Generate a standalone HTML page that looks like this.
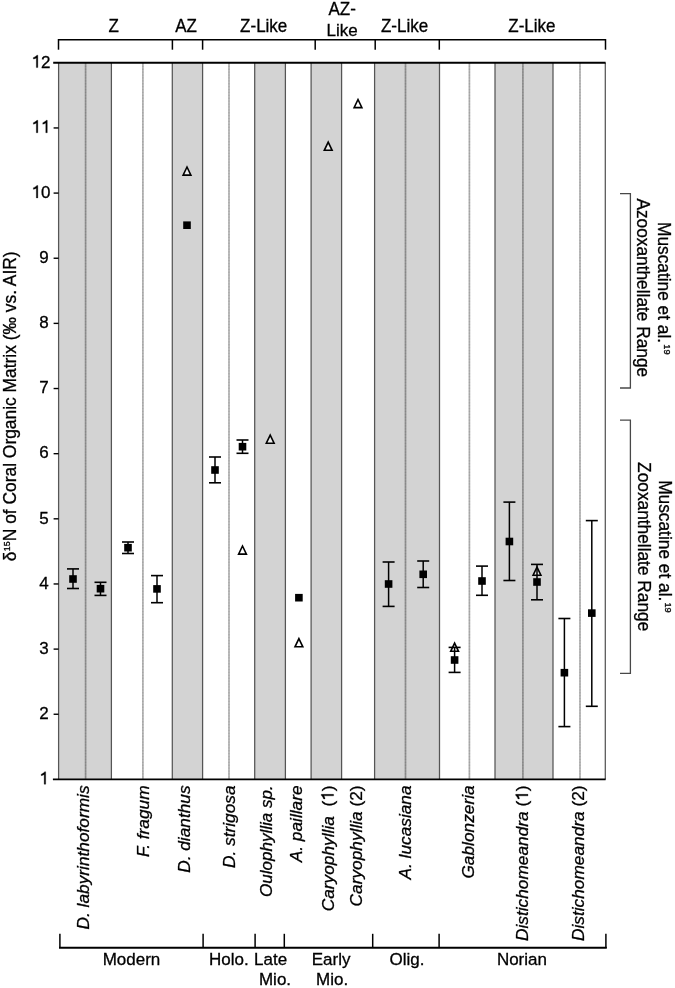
<!DOCTYPE html><html><head><meta charset="utf-8"><style>html,body{margin:0;padding:0;background:#fff;}svg{display:block;will-change:transform;}text{font-family:"Liberation Sans",sans-serif;fill:#000;stroke:#000;stroke-width:0.3px;}</style></head><body>
<svg width="675" height="988" viewBox="0 0 675 988">
<rect x="0" y="0" width="675" height="988" fill="#fff"/>
<rect x="58.6" y="62.8" width="52.80" height="716.60" fill="#d3d3d3"/>
<rect x="172.3" y="62.8" width="30.30" height="716.60" fill="#d3d3d3"/>
<rect x="254.7" y="62.8" width="30.70" height="716.60" fill="#d3d3d3"/>
<rect x="311.1" y="62.8" width="30.50" height="716.60" fill="#d3d3d3"/>
<rect x="374.6" y="62.8" width="64.90" height="716.60" fill="#d3d3d3"/>
<rect x="495.0" y="62.8" width="58.00" height="716.60" fill="#d3d3d3"/>
<line x1="58.6" y1="62.8" x2="58.6" y2="779.4" stroke="#555" stroke-width="1.25"/>
<line x1="85.6" y1="62.8" x2="85.6" y2="779.4" stroke="rgba(0,0,0,0.31)" stroke-width="1.7"/>
<line x1="85.6" y1="62.8" x2="85.6" y2="779.4" stroke="rgba(0,0,0,0.08)" stroke-width="1.7" stroke-dasharray="1.3,1.6"/>
<line x1="111.4" y1="62.8" x2="111.4" y2="779.4" stroke="#555" stroke-width="1.25"/>
<line x1="142.9" y1="62.8" x2="142.9" y2="779.4" stroke="rgba(0,0,0,0.31)" stroke-width="1.7"/>
<line x1="142.9" y1="62.8" x2="142.9" y2="779.4" stroke="rgba(0,0,0,0.08)" stroke-width="1.7" stroke-dasharray="1.3,1.6"/>
<line x1="172.3" y1="62.8" x2="172.3" y2="779.4" stroke="#555" stroke-width="1.25"/>
<line x1="202.6" y1="62.8" x2="202.6" y2="779.4" stroke="#555" stroke-width="1.25"/>
<line x1="229.0" y1="62.8" x2="229.0" y2="779.4" stroke="rgba(0,0,0,0.31)" stroke-width="1.7"/>
<line x1="229.0" y1="62.8" x2="229.0" y2="779.4" stroke="rgba(0,0,0,0.08)" stroke-width="1.7" stroke-dasharray="1.3,1.6"/>
<line x1="254.7" y1="62.8" x2="254.7" y2="779.4" stroke="#555" stroke-width="1.25"/>
<line x1="285.4" y1="62.8" x2="285.4" y2="779.4" stroke="#555" stroke-width="1.25"/>
<line x1="311.1" y1="62.8" x2="311.1" y2="779.4" stroke="#555" stroke-width="1.25"/>
<line x1="341.6" y1="62.8" x2="341.6" y2="779.4" stroke="#555" stroke-width="1.25"/>
<line x1="374.6" y1="62.8" x2="374.6" y2="779.4" stroke="#555" stroke-width="1.25"/>
<line x1="405.5" y1="62.8" x2="405.5" y2="779.4" stroke="rgba(0,0,0,0.31)" stroke-width="1.7"/>
<line x1="405.5" y1="62.8" x2="405.5" y2="779.4" stroke="rgba(0,0,0,0.08)" stroke-width="1.7" stroke-dasharray="1.3,1.6"/>
<line x1="439.5" y1="62.8" x2="439.5" y2="779.4" stroke="#555" stroke-width="1.25"/>
<line x1="469.4" y1="62.8" x2="469.4" y2="779.4" stroke="rgba(0,0,0,0.31)" stroke-width="1.7"/>
<line x1="469.4" y1="62.8" x2="469.4" y2="779.4" stroke="rgba(0,0,0,0.08)" stroke-width="1.7" stroke-dasharray="1.3,1.6"/>
<line x1="495.0" y1="62.8" x2="495.0" y2="779.4" stroke="#555" stroke-width="1.25"/>
<line x1="522.9" y1="62.8" x2="522.9" y2="779.4" stroke="rgba(0,0,0,0.31)" stroke-width="1.7"/>
<line x1="522.9" y1="62.8" x2="522.9" y2="779.4" stroke="rgba(0,0,0,0.08)" stroke-width="1.7" stroke-dasharray="1.3,1.6"/>
<line x1="553.0" y1="62.8" x2="553.0" y2="779.4" stroke="#555" stroke-width="1.25"/>
<line x1="580.0" y1="62.8" x2="580.0" y2="779.4" stroke="rgba(0,0,0,0.31)" stroke-width="1.7"/>
<line x1="580.0" y1="62.8" x2="580.0" y2="779.4" stroke="rgba(0,0,0,0.08)" stroke-width="1.7" stroke-dasharray="1.3,1.6"/>
<line x1="605.3" y1="62.8" x2="605.3" y2="779.4" stroke="#555" stroke-width="1.25"/>
<line x1="53.2" y1="62.8" x2="605.6" y2="62.8" stroke="#000" stroke-width="1.9"/>
<line x1="52.9" y1="779.4" x2="605.6" y2="779.4" stroke="#000" stroke-width="1.9"/>
<path d="M763,0 L583,0 L583,1147 C500,1075 360,1030 223,1011 L223,1185 C400,1250 560,1360 650,1466 L763,1466 Z" transform="translate(39.345,784.200) scale(0.008301,-0.008467)" fill="#000" stroke="#000" stroke-width="0.3" vector-effect="non-scaling-stroke"/>
<line x1="53.6" y1="714.25" x2="58.6" y2="714.25" stroke="#000" stroke-width="1.4"/>
<text transform="translate(39.35,719.05) scale(1,1.02)" font-size="17" text-anchor="start" xml:space="preserve" >2</text>
<line x1="53.6" y1="649.11" x2="58.6" y2="649.11" stroke="#000" stroke-width="1.4"/>
<text transform="translate(39.35,653.91) scale(1,1.02)" font-size="17" text-anchor="start" xml:space="preserve" >3</text>
<line x1="53.6" y1="583.96" x2="58.6" y2="583.96" stroke="#000" stroke-width="1.4"/>
<text transform="translate(39.35,588.76) scale(1,1.02)" font-size="17" text-anchor="start" xml:space="preserve" >4</text>
<line x1="53.6" y1="518.82" x2="58.6" y2="518.82" stroke="#000" stroke-width="1.4"/>
<text transform="translate(39.35,523.62) scale(1,1.02)" font-size="17" text-anchor="start" xml:space="preserve" >5</text>
<line x1="53.6" y1="453.67" x2="58.6" y2="453.67" stroke="#000" stroke-width="1.4"/>
<text transform="translate(39.35,458.47) scale(1,1.02)" font-size="17" text-anchor="start" xml:space="preserve" >6</text>
<line x1="53.6" y1="388.53" x2="58.6" y2="388.53" stroke="#000" stroke-width="1.4"/>
<text transform="translate(39.35,393.33) scale(1,1.02)" font-size="17" text-anchor="start" xml:space="preserve" >7</text>
<line x1="53.6" y1="323.38" x2="58.6" y2="323.38" stroke="#000" stroke-width="1.4"/>
<text transform="translate(39.35,328.18) scale(1,1.02)" font-size="17" text-anchor="start" xml:space="preserve" >8</text>
<line x1="53.6" y1="258.24" x2="58.6" y2="258.24" stroke="#000" stroke-width="1.4"/>
<text transform="translate(39.35,263.04) scale(1,1.02)" font-size="17" text-anchor="start" xml:space="preserve" >9</text>
<line x1="53.6" y1="193.09" x2="58.6" y2="193.09" stroke="#000" stroke-width="1.4"/>
<path d="M763,0 L583,0 L583,1147 C500,1075 360,1030 223,1011 L223,1185 C400,1250 560,1360 650,1466 L763,1466 Z" transform="translate(31.491,197.891) scale(0.008301,-0.008467)" fill="#000" stroke="#000" stroke-width="0.3" vector-effect="non-scaling-stroke"/>
<text transform="translate(40.95,197.89) scale(1,1.02)" font-size="17" text-anchor="start" xml:space="preserve" >0</text>
<line x1="53.6" y1="127.95" x2="58.6" y2="127.95" stroke="#000" stroke-width="1.4"/>
<path d="M763,0 L583,0 L583,1147 C500,1075 360,1030 223,1011 L223,1185 C400,1250 560,1360 650,1466 L763,1466 Z" transform="translate(31.491,132.745) scale(0.008301,-0.008467)" fill="#000" stroke="#000" stroke-width="0.3" vector-effect="non-scaling-stroke"/>
<path d="M763,0 L583,0 L583,1147 C500,1075 360,1030 223,1011 L223,1185 C400,1250 560,1360 650,1466 L763,1466 Z" transform="translate(40.945,132.745) scale(0.008301,-0.008467)" fill="#000" stroke="#000" stroke-width="0.3" vector-effect="non-scaling-stroke"/>
<path d="M763,0 L583,0 L583,1147 C500,1075 360,1030 223,1011 L223,1185 C400,1250 560,1360 650,1466 L763,1466 Z" transform="translate(31.491,67.600) scale(0.008301,-0.008467)" fill="#000" stroke="#000" stroke-width="0.3" vector-effect="non-scaling-stroke"/>
<text transform="translate(40.95,67.60) scale(1,1.02)" font-size="17" text-anchor="start" xml:space="preserve" >2</text>
<text transform="translate(15.70,406.30) rotate(-90) scale(1,1.02)" font-size="17.4" text-anchor="middle" xml:space="preserve" >δ<tspan font-size="8.8" dy="-5.4" dx="0.3">15</tspan><tspan dy="5.4" dx="0.2">N of Coral Organic Matrix (‰ vs. AIR)</tspan></text>
<g stroke="#000" stroke-width="1.5" fill="none">
<line x1="58.3" y1="39.7" x2="605.6" y2="39.7"/>
<line x1="58.5" y1="39" x2="58.5" y2="49.7"/>
<line x1="172.4" y1="39" x2="172.4" y2="49.7"/>
<line x1="202.6" y1="39" x2="202.6" y2="49.7"/>
<line x1="315.2" y1="39" x2="315.2" y2="49.7"/>
<line x1="375.2" y1="39" x2="375.2" y2="49.7"/>
<line x1="439.3" y1="39" x2="439.3" y2="49.7"/>
<line x1="605.5" y1="39" x2="605.5" y2="49.7"/>
</g>
<text transform="translate(113.60,31.60) scale(1,1.045)" font-size="17" text-anchor="middle" xml:space="preserve" >Z</text>
<text transform="translate(186.00,31.60) scale(1,1.045)" font-size="17" text-anchor="middle" xml:space="preserve" >AZ</text>
<text transform="translate(263.70,31.60) scale(1,1.025)" font-size="17" text-anchor="middle" xml:space="preserve" >Z-Like</text>
<text transform="translate(342.20,14.90) scale(1,1.04)" font-size="17" text-anchor="middle" xml:space="preserve" >AZ-</text>
<text transform="translate(342.20,35.60) scale(1,1.02)" font-size="17" text-anchor="middle" xml:space="preserve" >Like</text>
<text transform="translate(404.50,31.60) scale(1,1.025)" font-size="17" text-anchor="middle" xml:space="preserve" >Z-Like</text>
<text transform="translate(531.90,31.60) scale(1,1.025)" font-size="17" text-anchor="middle" xml:space="preserve" >Z-Like</text>
<g stroke="#000" stroke-width="1.9" fill="none">
<line x1="59" y1="947.8" x2="606.8" y2="947.8"/>
</g><g stroke="#000" stroke-width="1.5" fill="none">
<line x1="59.9" y1="933.8" x2="59.9" y2="948"/>
<line x1="203.1" y1="933.8" x2="203.1" y2="948"/>
<line x1="255.1" y1="933.8" x2="255.1" y2="948"/>
<line x1="284.3" y1="933.8" x2="284.3" y2="948"/>
<line x1="372.7" y1="933.8" x2="372.7" y2="948"/>
<line x1="439.1" y1="933.8" x2="439.1" y2="948"/>
<line x1="605.9" y1="933.8" x2="605.9" y2="948"/>
</g>
<text transform="translate(131.50,964.60) scale(1,1.02)" font-size="17" text-anchor="middle" xml:space="preserve" >Modern</text>
<text transform="translate(228.80,964.60) scale(1,1.02)" font-size="17" text-anchor="middle" xml:space="preserve" >Holo.</text>
<text transform="translate(270.60,964.60) scale(1,1.02)" font-size="17" text-anchor="middle" xml:space="preserve" >Late</text>
<text transform="translate(275.00,984.60) scale(1,1.02)" font-size="17" text-anchor="middle" xml:space="preserve" >Mio.</text>
<text transform="translate(331.10,964.60) scale(1,1.02)" font-size="17" text-anchor="middle" xml:space="preserve" >Early</text>
<text transform="translate(332.10,984.60) scale(1,1.02)" font-size="17" text-anchor="middle" xml:space="preserve" >Mio.</text>
<text transform="translate(407.00,964.60) scale(1,1.02)" font-size="17" text-anchor="middle" xml:space="preserve" >Olig.</text>
<text transform="translate(521.90,964.60) scale(1,1.02)" font-size="17" text-anchor="middle" xml:space="preserve" >Norian</text>
<text transform="translate(89.20,785.40) rotate(-90) scale(1,1.0)" font-size="17.3" text-anchor="end" xml:space="preserve" ><tspan font-style="italic">D. labyrinthoformis</tspan></text>
<text transform="translate(149.30,785.40) rotate(-90) scale(1,1.0)" font-size="17.3" text-anchor="end" xml:space="preserve" ><tspan font-style="italic">F. fragum</tspan></text>
<text transform="translate(189.70,785.40) rotate(-90) scale(1,1.0)" font-size="17.3" text-anchor="end" xml:space="preserve" ><tspan font-style="italic">D. dianthus</tspan></text>
<text transform="translate(235.40,785.40) rotate(-90) scale(1,1.0)" font-size="17.3" text-anchor="end" xml:space="preserve" ><tspan font-style="italic">D. strigosa</tspan></text>
<text transform="translate(272.20,785.40) rotate(-90) scale(1,1.0)" font-size="17.0" text-anchor="end" xml:space="preserve" ><tspan font-style="italic">Oulophyllia sp.</tspan></text>
<text transform="translate(302.00,785.40) rotate(-90) scale(1,1.0)" font-size="17.3" text-anchor="end" xml:space="preserve" ><tspan font-style="italic">A. paillare</tspan></text>
<g transform="translate(333.60,785.4) rotate(-90) scale(1,1.0)">
<text font-size="17.3" text-anchor="end" xml:space="preserve"><tspan font-style="italic">Caryophyllia</tspan>  ( )</text>
<path d="M763,0 L583,0 L583,1147 C500,1075 360,1030 223,1011 L223,1185 C400,1250 560,1360 650,1466 L763,1466 Z" transform="translate(-15.382,0.000) scale(0.008447,-0.008447)" fill="#000" stroke="#000" stroke-width="0.3" vector-effect="non-scaling-stroke"/>
</g>
<text transform="translate(362.20,785.40) rotate(-90) scale(1,1.0)" font-size="17.3" text-anchor="end" xml:space="preserve" ><tspan font-style="italic">Caryophyllia</tspan> (2)</text>
<text transform="translate(411.00,785.40) rotate(-90) scale(1,1.0)" font-size="17.3" text-anchor="end" xml:space="preserve" ><tspan font-style="italic">A. lucasiana</tspan></text>
<text transform="translate(474.40,785.40) rotate(-90) scale(1,1.0)" font-size="17.3" text-anchor="end" xml:space="preserve" ><tspan font-style="italic">Gablonzeria</tspan></text>
<g transform="translate(528.00,785.4) rotate(-90) scale(1,1.0)">
<text font-size="17.3" text-anchor="end" xml:space="preserve"><tspan font-style="italic">Distichomeandra</tspan> ( )</text>
<path d="M763,0 L583,0 L583,1147 C500,1075 360,1030 223,1011 L223,1185 C400,1250 560,1360 650,1466 L763,1466 Z" transform="translate(-15.382,0.000) scale(0.008447,-0.008447)" fill="#000" stroke="#000" stroke-width="0.3" vector-effect="non-scaling-stroke"/>
</g>
<text transform="translate(584.10,785.40) rotate(-90) scale(1,1.0)" font-size="17.3" text-anchor="end" xml:space="preserve" ><tspan font-style="italic">Distichomeandra</tspan> (2)</text>
<g stroke="#484848" stroke-width="1.3" fill="none">
<polyline points="620,193.6 630.4,193.6 630.4,388 620,388"/>
<polyline points="620,420.1 630.4,420.1 630.4,673.3 620,673.3"/>
</g>
<text transform="translate(658.00,222.00) rotate(90) scale(1,1.01)" font-size="17.3" text-anchor="start" xml:space="preserve" >Muscatine et al.<tspan font-size="9.2" dx="1.2" dy="-6.2">19</tspan></text>
<text transform="translate(637.00,198.40) rotate(90) scale(1,1.01)" font-size="17.3" text-anchor="start" xml:space="preserve" >Azooxanthellate Range</text>
<text transform="translate(637.80,462.10) rotate(90) scale(1,1.01)" font-size="17.3" text-anchor="start" xml:space="preserve" >Zooxanthellate Range</text>
<text transform="translate(658.50,480.20) rotate(90) scale(1,1.01)" font-size="17.3" text-anchor="start" xml:space="preserve" >Muscatine et al.<tspan font-size="9.2" dx="1.2" dy="-6.2">19</tspan></text>
<line x1="73.0" y1="568.9" x2="73.0" y2="588.5" stroke="#000" stroke-width="1.5"/>
<line x1="67.0" y1="568.9" x2="79.0" y2="568.9" stroke="#000" stroke-width="1.6"/>
<line x1="67.0" y1="588.5" x2="79.0" y2="588.5" stroke="#000" stroke-width="1.6"/>
<rect x="69.20" y="575.20" width="7.6" height="7.6" fill="#000"/>
<line x1="100.5" y1="582.3" x2="100.5" y2="595.4" stroke="#000" stroke-width="1.5"/>
<line x1="94.5" y1="582.3" x2="106.5" y2="582.3" stroke="#000" stroke-width="1.6"/>
<line x1="94.5" y1="595.4" x2="106.5" y2="595.4" stroke="#000" stroke-width="1.6"/>
<rect x="96.70" y="584.90" width="7.6" height="7.6" fill="#000"/>
<line x1="128.0" y1="542.0" x2="128.0" y2="553.5" stroke="#000" stroke-width="1.5"/>
<line x1="122.0" y1="542.0" x2="134.0" y2="542.0" stroke="#000" stroke-width="1.6"/>
<line x1="122.0" y1="553.5" x2="134.0" y2="553.5" stroke="#000" stroke-width="1.6"/>
<rect x="124.20" y="543.90" width="7.6" height="7.6" fill="#000"/>
<line x1="157.0" y1="575.6" x2="157.0" y2="602.7" stroke="#000" stroke-width="1.5"/>
<line x1="151.0" y1="575.6" x2="163.0" y2="575.6" stroke="#000" stroke-width="1.6"/>
<line x1="151.0" y1="602.7" x2="163.0" y2="602.7" stroke="#000" stroke-width="1.6"/>
<rect x="153.20" y="585.10" width="7.6" height="7.6" fill="#000"/>
<polygon points="187.00,167.00 183.10,175.10 190.90,175.10" fill="rgba(255,255,255,0.55)" stroke="#000" stroke-width="1.6" stroke-linejoin="miter"/>
<rect x="183.20" y="221.40" width="7.6" height="7.6" fill="#000"/>
<line x1="215.0" y1="457.0" x2="215.0" y2="482.8" stroke="#000" stroke-width="1.5"/>
<line x1="209.0" y1="457.0" x2="221.0" y2="457.0" stroke="#000" stroke-width="1.6"/>
<line x1="209.0" y1="482.8" x2="221.0" y2="482.8" stroke="#000" stroke-width="1.6"/>
<rect x="211.20" y="466.20" width="7.6" height="7.6" fill="#000"/>
<polygon points="242.50,546.00 238.60,554.10 246.40,554.10" fill="rgba(255,255,255,0.55)" stroke="#000" stroke-width="1.6" stroke-linejoin="miter"/>
<line x1="242.5" y1="440.0" x2="242.5" y2="453.3" stroke="#000" stroke-width="1.5"/>
<line x1="236.5" y1="440.0" x2="248.5" y2="440.0" stroke="#000" stroke-width="1.6"/>
<line x1="236.5" y1="453.3" x2="248.5" y2="453.3" stroke="#000" stroke-width="1.6"/>
<rect x="238.70" y="442.90" width="7.6" height="7.6" fill="#000"/>
<polygon points="270.20,435.10 266.30,443.20 274.10,443.20" fill="rgba(255,255,255,0.55)" stroke="#000" stroke-width="1.6" stroke-linejoin="miter"/>
<polygon points="298.90,638.70 295.00,646.80 302.80,646.80" fill="rgba(255,255,255,0.55)" stroke="#000" stroke-width="1.6" stroke-linejoin="miter"/>
<rect x="295.10" y="593.90" width="7.6" height="7.6" fill="#000"/>
<polygon points="328.20,142.20 324.30,150.30 332.10,150.30" fill="rgba(255,255,255,0.55)" stroke="#000" stroke-width="1.6" stroke-linejoin="miter"/>
<polygon points="358.00,99.50 354.10,107.60 361.90,107.60" fill="rgba(255,255,255,0.55)" stroke="#000" stroke-width="1.6" stroke-linejoin="miter"/>
<line x1="388.6" y1="562.0" x2="388.6" y2="606.4" stroke="#000" stroke-width="1.5"/>
<line x1="382.6" y1="562.0" x2="394.6" y2="562.0" stroke="#000" stroke-width="1.6"/>
<line x1="382.6" y1="606.4" x2="394.6" y2="606.4" stroke="#000" stroke-width="1.6"/>
<rect x="384.80" y="580.20" width="7.6" height="7.6" fill="#000"/>
<line x1="423.2" y1="561.0" x2="423.2" y2="587.5" stroke="#000" stroke-width="1.5"/>
<line x1="417.2" y1="561.0" x2="429.2" y2="561.0" stroke="#000" stroke-width="1.6"/>
<line x1="417.2" y1="587.5" x2="429.2" y2="587.5" stroke="#000" stroke-width="1.6"/>
<rect x="419.40" y="570.50" width="7.6" height="7.6" fill="#000"/>
<polygon points="454.60,643.20 450.70,651.30 458.50,651.30" fill="rgba(255,255,255,0.55)" stroke="#000" stroke-width="1.6" stroke-linejoin="miter"/>
<line x1="454.6" y1="647.4" x2="454.6" y2="672.4" stroke="#000" stroke-width="1.5"/>
<line x1="448.6" y1="647.4" x2="460.6" y2="647.4" stroke="#000" stroke-width="1.6"/>
<line x1="448.6" y1="672.4" x2="460.6" y2="672.4" stroke="#000" stroke-width="1.6"/>
<rect x="450.80" y="656.20" width="7.6" height="7.6" fill="#000"/>
<line x1="482.0" y1="566.1" x2="482.0" y2="595.3" stroke="#000" stroke-width="1.5"/>
<line x1="476.0" y1="566.1" x2="488.0" y2="566.1" stroke="#000" stroke-width="1.6"/>
<line x1="476.0" y1="595.3" x2="488.0" y2="595.3" stroke="#000" stroke-width="1.6"/>
<rect x="478.20" y="577.20" width="7.6" height="7.6" fill="#000"/>
<line x1="509.4" y1="502.1" x2="509.4" y2="580.5" stroke="#000" stroke-width="1.5"/>
<line x1="503.4" y1="502.1" x2="515.4" y2="502.1" stroke="#000" stroke-width="1.6"/>
<line x1="503.4" y1="580.5" x2="515.4" y2="580.5" stroke="#000" stroke-width="1.6"/>
<rect x="505.60" y="537.70" width="7.6" height="7.6" fill="#000"/>
<polygon points="537.00,567.10 533.10,575.20 540.90,575.20" fill="rgba(255,255,255,0.55)" stroke="#000" stroke-width="1.6" stroke-linejoin="miter"/>
<line x1="537.0" y1="564.4" x2="537.0" y2="599.8" stroke="#000" stroke-width="1.5"/>
<line x1="531.0" y1="564.4" x2="543.0" y2="564.4" stroke="#000" stroke-width="1.6"/>
<line x1="531.0" y1="599.8" x2="543.0" y2="599.8" stroke="#000" stroke-width="1.6"/>
<rect x="533.20" y="578.20" width="7.6" height="7.6" fill="#000"/>
<line x1="564.4" y1="618.5" x2="564.4" y2="726.6" stroke="#000" stroke-width="1.5"/>
<line x1="558.4" y1="618.5" x2="570.4" y2="618.5" stroke="#000" stroke-width="1.6"/>
<line x1="558.4" y1="726.6" x2="570.4" y2="726.6" stroke="#000" stroke-width="1.6"/>
<rect x="560.60" y="668.90" width="7.6" height="7.6" fill="#000"/>
<line x1="591.8" y1="520.6" x2="591.8" y2="706.3" stroke="#000" stroke-width="1.5"/>
<line x1="585.8" y1="520.6" x2="597.8" y2="520.6" stroke="#000" stroke-width="1.6"/>
<line x1="585.8" y1="706.3" x2="597.8" y2="706.3" stroke="#000" stroke-width="1.6"/>
<rect x="588.00" y="609.30" width="7.6" height="7.6" fill="#000"/>
</svg></body></html>
